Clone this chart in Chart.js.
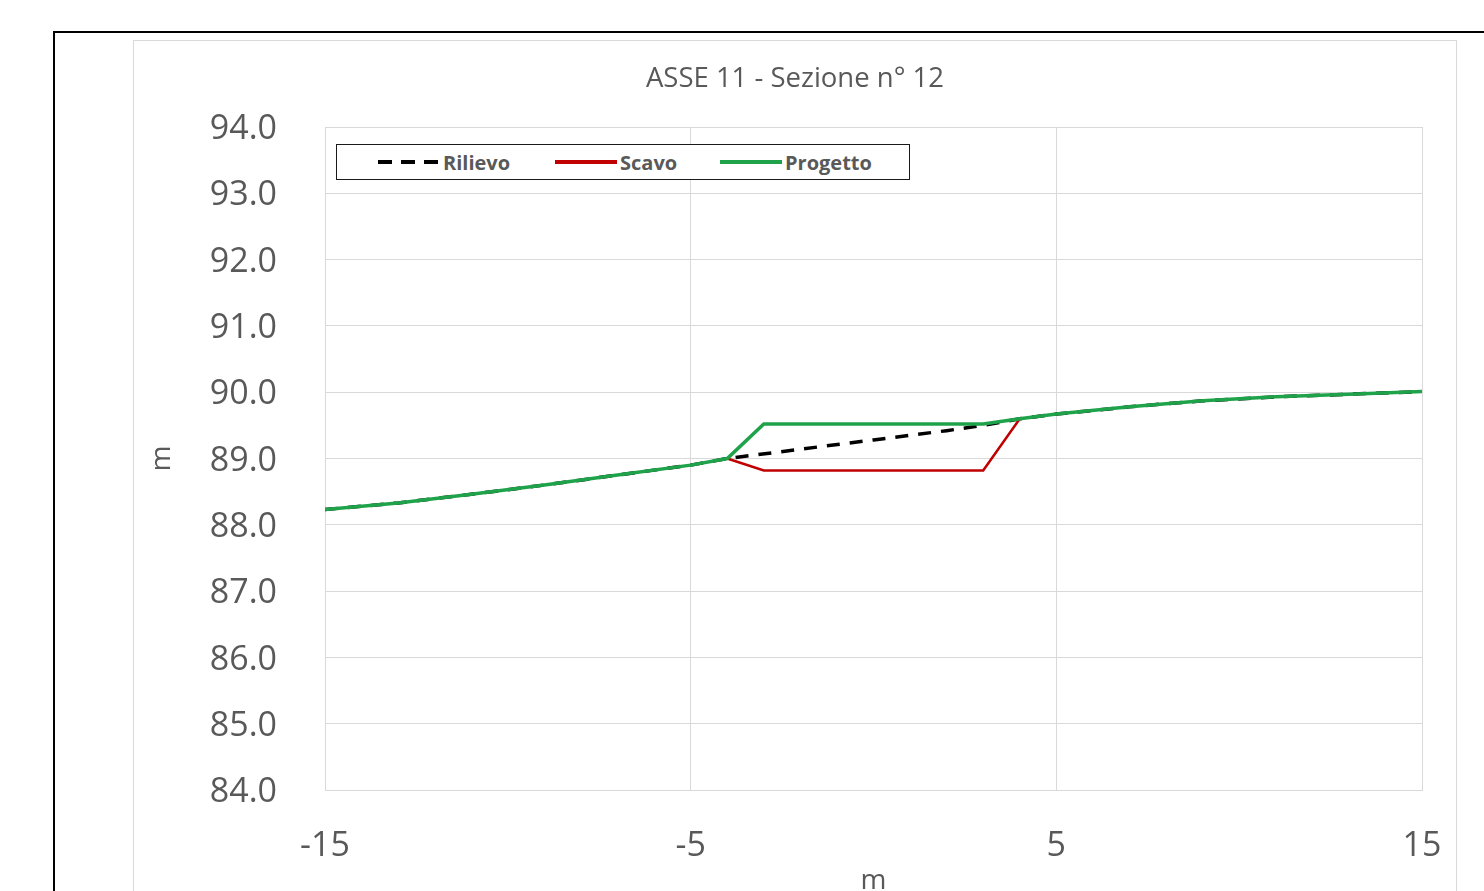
<!DOCTYPE html>
<html><head><meta charset="utf-8">
<script src="https://cdn.jsdelivr.net/npm/chart.js@4.4.1/dist/chart.umd.min.js"></script>
<style>
html,body{margin:0;padding:0;background:#fff;width:1484px;height:891px;overflow:hidden;position:relative;}
#frame{position:absolute;left:53px;top:31px;width:1500px;height:900px;border:2px solid #000;box-sizing:border-box;}
#inner{position:absolute;left:133px;top:40px;width:1324px;height:900px;border:1px solid #d9d9d9;box-sizing:border-box;}
#wrap{position:absolute;left:0;top:0;width:1484px;height:930px;}
#title{position:absolute;left:133px;width:1324px;top:58px;text-align:center;font-family:'Open Sans';font-size:27.5px;color:#595959;white-space:nowrap;}
#legend{position:absolute;left:336px;top:144px;width:574px;height:36px;border:1.5px solid #1a1a1a;box-sizing:border-box;background:#fff;font-family:'Open Sans';font-weight:bold;font-size:20px;color:#595959;}
.item{position:absolute;top:0;height:100%;display:flex;align-items:center;white-space:nowrap;}
.sw{height:4px;width:62px;margin-right:3px;}
</style>
</head><body>
<div id="frame"></div>
<div id="inner"></div>
<div id="wrap"><canvas id="c" width="1484" height="930"></canvas></div>
<div id="title">ASSE 11 - Sezione n° 12</div>
<div id="legend">
  <div class="item" style="left:41px"><div class="sw" style="background:repeating-linear-gradient(to right,#000 0 14px,transparent 14px 23px)"></div>Rilievo</div>
  <div class="item" style="left:218px"><div class="sw" style="background:#c00000"></div>Scavo</div>
  <div class="item" style="left:383px"><div class="sw" style="background:#1fa34a"></div>Progetto</div>
</div>
<script>
// Data (m)
const rilievoX = [-15, -13, -11, -9, -7, -5, -4, -2, 0, 2, 3, 4, 5, 7, 9, 11, 13, 15];
const rilievoY = [88.23, 88.33, 88.46, 88.60, 88.75, 88.90, 89.00, 89.14, 89.28, 89.42, 89.50, 89.60, 89.67, 89.78, 89.87, 89.93, 89.97, 90.01];
const progettoX = [-15, -13, -11, -9, -7, -5, -4, -3, 3, 4, 5, 7, 9, 11, 13, 15];
const progettoY = [88.23, 88.33, 88.46, 88.60, 88.75, 88.90, 89.00, 89.52, 89.52, 89.60, 89.67, 89.78, 89.87, 89.93, 89.97, 90.01];
const scavoX = [-4, -3, 3, 4];
const scavoY = [89.00, 88.82, 88.82, 89.60];
const xTicks = [-15, -5, 5, 15];
const yTicks = [84, 85, 86, 87, 88, 89, 90, 91, 92, 93, 94];
const seriesNames = ['Rilievo', 'Scavo', 'Progetto'];

const pts = (xs, ys) => xs.map((x, i) => ({x: x, y: ys[i]}));
const GRID = '#d9d9d9';
const TXT = '#595959';

new Chart(document.getElementById('c'), {
  type: 'line',
  data: {
    datasets: [
      {label: seriesNames[2], data: pts(progettoX, progettoY), borderColor: '#1fa34a', borderWidth: 3.5, order: 1},
      {label: seriesNames[1], data: pts(scavoX, scavoY), borderColor: '#c00000', borderWidth: 2.5, order: 2},
      {label: seriesNames[0], data: pts(rilievoX, rilievoY), borderColor: '#000000', borderWidth: 3.5, borderDash: [13, 10], order: 3}
    ]
  },
  options: {
    responsive: false,
    animation: false,
    events: [],
    elements: {point: {radius: 0}, line: {tension: 0, borderCapStyle: 'butt'}},
    layout: {padding: {left: 140, right: 62, top: 127, bottom: 0}},
    plugins: {legend: {display: false}, tooltip: {enabled: false}, title: {display: false}},
    scales: {
      x: {
        type: 'linear', min: -15, max: 15,
        afterBuildTicks: a => { a.ticks = xTicks.map(v => ({value: v})); },
        afterFit: a => { a.height = 140; a.paddingLeft = 0; a.paddingRight = 0; },
        grid: {color: GRID, lineWidth: 1, drawTicks: false},
        border: {color: GRID, width: 1},
        ticks: {color: TXT, font: {family: 'Open Sans', size: 34}, padding: 36, maxRotation: 0, autoSkip: false},
        title: {display: true, text: 'm', color: TXT, font: {family: 'Open Sans', size: 28}, padding: {top: 0, bottom: 32}}
      },
      y: {
        type: 'linear', min: 84, max: 94,
        afterBuildTicks: a => { a.ticks = yTicks.map(v => ({value: v})); },
        afterFit: a => { a.width = 185; a.paddingTop = 0; a.paddingBottom = 0; },
        grid: {color: GRID, lineWidth: 1, drawTicks: false},
        border: {color: GRID, width: 1},
        ticks: {color: TXT, font: {family: 'Open Sans', size: 34}, padding: 48, labelOffset: 2.5, autoSkip: false, callback: v => Number(v).toFixed(1)},
        title: {display: true, text: 'm', color: TXT, font: {family: 'Open Sans', size: 28}, padding: {top: 5, bottom: 0}}
      }
    }
  }
});
</script>
</body></html>
